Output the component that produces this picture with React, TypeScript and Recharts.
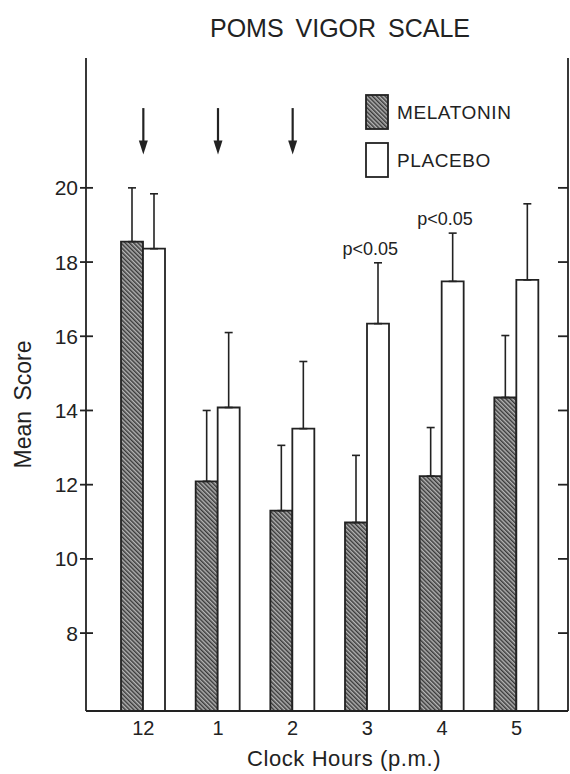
import React from 'react';
import {
  BarChart,
  Bar,
  XAxis,
  YAxis,
  ErrorBar,
  ReferenceLine,
  ReferenceDot,
  Legend,
} from 'recharts';

// ---- data ----
const hours = ['12', '1', '2', '3', '4', '5'];
const melatonin = [18.55, 12.09, 11.3, 10.98, 12.23, 14.35];
const melatoninErr = [1.45, 1.91, 1.76, 1.81, 1.31, 1.67];
const placebo = [18.36, 14.08, 13.51, 16.34, 17.48, 17.52];
const placeboErr = [1.48, 2.02, 1.81, 1.64, 1.3, 2.05];
const significance = ['', '', '', 'p<0.05', 'p<0.05', ''];
const arrowHours = ['12', '1', '2'];
const arrowFrom = 22.15;
const arrowTo = 20.9;
const yTicks = [8, 10, 12, 14, 16, 18, 20];
const yDomain = [5.9, 23.5];

const data = hours.map((h, i) => ({
  hour: h,
  melatonin: melatonin[i],
  mErr: [0, melatoninErr[i]],
  placebo: placebo[i],
  pErr: [0, placeboErr[i]],
}));

const FONT = "'Liberation Sans', Arial, sans-serif";
const INK = '#222';

const emptyTick = () => <g />;

const arrowShape = (p: any) => {
  const { x1, y1, x2, y2 } = p;
  return (
    <g>
      <line x1={x1} y1={y1} x2={x2} y2={y2 - 12} stroke={INK} strokeWidth={2.2} />
      <polygon
        points={`${x2 - 4.5},${y2 - 14} ${x2 + 4.5},${y2 - 14} ${x2},${y2}`}
        fill={INK}
      />
    </g>
  );
};

const renderLegend = (props: any) => {
  const payload = props.payload || [];
  return (
    <div style={{ fontFamily: FONT }}>
      {payload.map((entry: any, i: number) => (
        <div
          key={i}
          style={{ display: 'flex', alignItems: 'center', height: 37, marginBottom: 11 }}
        >
          <svg width={25} height={37} style={{ display: 'block' }}>
            <rect
              x={1}
              y={1}
              width={22}
              height={34}
              fill={entry.color}
              stroke={INK}
              strokeWidth={1.8}
            />
          </svg>
          <span
            style={{
              marginLeft: 7,
              fontSize: 19,
              color: INK,
              letterSpacing: 0.6,
              whiteSpace: 'nowrap',
            }}
          >
            {entry.value}
          </span>
        </div>
      ))}
    </div>
  );
};

const yLabel = (props: any) => {
  const vb = props.viewBox || { x: 0, y: 58, width: 86, height: 653 };
  const cx = vb.x + 23;
  const cy = vb.y + vb.height / 2 + 20;
  return (
    <text
      x={cx}
      y={cy}
      transform={`rotate(-90, ${cx}, ${cy})`}
      textAnchor="middle"
      dominantBaseline="central"
      fontSize={23}
      fontFamily={FONT}
      fill={INK}
      wordSpacing={4}
    >
      Mean Score
    </text>
  );
};

export default function App() {
  return (
    <div
      style={{
        position: 'absolute',
        left: 0,
        top: 0,
        width: 570,
        height: 774,
        background: '#fff',
        fontFamily: FONT,
      }}
    >
      <div
        style={{
          position: 'absolute',
          left: 140,
          top: 15,
          width: 400,
          textAlign: 'center',
          fontSize: 25,
          lineHeight: '26px',
          color: INK,
          wordSpacing: 5,
          fontFamily: FONT,
        }}
      >
        POMS VIGOR SCALE
      </div>
      <BarChart
        width={570}
        height={774}
        data={data}
        margin={{ top: 58, right: 2, bottom: 0, left: 0 }}
        barGap={0}
        barSize={22}
      >
        <defs>
          <pattern
            id="hatch"
            patternUnits="userSpaceOnUse"
            width={3}
            height={3}
            patternTransform="rotate(-45)"
          >
            <rect width={3} height={3} fill="#b4b4b4" />
            <rect width={1.5} height={3} fill="#3a3a3a" />
          </pattern>
        </defs>
        <XAxis
          dataKey="hour"
          height={63}
          padding={{ left: 20, right: 14 }}
          tickLine={false}
          tickSize={6}
          tickMargin={4}
          axisLine={{ stroke: INK, strokeWidth: 1.8 }}
          tick={{ fontSize: 20, fill: INK, fontFamily: FONT }}
          label={{
            value: 'Clock Hours (p.m.)',
            position: 'insideBottom',
            offset: 8,
            dx: 17,
            fontSize: 22,
            letterSpacing: 0.6,
            fill: INK,
            fontFamily: FONT,
          }}
        />
        <XAxis
          xAxisId="top"
          orientation="top"
          dataKey="hour"
          height={0}
          tick={false}
          tickLine={false}
          axisLine={{ stroke: INK, strokeWidth: 1.8 }}
        />
        <YAxis
          width={86}
          domain={yDomain}
          ticks={yTicks}
          allowDataOverflow
          interval={0}
          tickSize={6}
          tickMargin={2}
          tickLine={{ stroke: INK, strokeWidth: 1.8 }}
          axisLine={{ stroke: INK, strokeWidth: 1.8 }}
          tick={{ fontSize: 21, fill: INK, fontFamily: FONT }}
          label={yLabel}
        />
        <YAxis
          yAxisId="in"
          orientation="left"
          mirror
          width={1}
          domain={yDomain}
          ticks={yTicks}
          allowDataOverflow
          interval={0}
          tickSize={7}
          tickLine={{ stroke: INK, strokeWidth: 1.8 }}
          axisLine={false}
          tick={emptyTick}
        />
        <YAxis
          yAxisId="right"
          orientation="right"
          mirror
          width={1}
          domain={yDomain}
          ticks={yTicks}
          allowDataOverflow
          interval={0}
          tickSize={10}
          tickLine={{ stroke: INK, strokeWidth: 1.8 }}
          axisLine={{ stroke: INK, strokeWidth: 1.8 }}
          tick={emptyTick}
        />
        <Legend
          layout="vertical"
          align="center"
          verticalAlign="middle"
          wrapperStyle={{ top: 94, left: 365, width: 180 }}
          content={renderLegend}
        />
        <Bar
          dataKey="melatonin"
          name="MELATONIN"
          fill="url(#hatch)"
          stroke={INK}
          strokeWidth={1.8}
          isAnimationActive={false}
        >
          <ErrorBar
            dataKey="mErr"
            direction="y"
            width={4}
            stroke={INK}
            strokeWidth={1.6}
            isAnimationActive={false}
          />
        </Bar>
        <Bar
          dataKey="placebo"
          name="PLACEBO"
          fill="#ffffff"
          stroke={INK}
          strokeWidth={1.8}
          isAnimationActive={false}
        >
          <ErrorBar
            dataKey="pErr"
            direction="y"
            width={4}
            stroke={INK}
            strokeWidth={1.6}
            isAnimationActive={false}
          />
        </Bar>
        {arrowHours.map((h) => (
          <ReferenceLine
            key={`arrow-${h}`}
            segment={[
              { x: h, y: arrowFrom },
              { x: h, y: arrowTo },
            ]}
            shape={arrowShape}
          />
        ))}
        {hours.map((h, i) =>
          significance[i] ? (
            <ReferenceDot
              key={`sig-${h}`}
              x={h}
              y={placebo[i] + placeboErr[i]}
              r={0}
              fill="none"
              stroke="none"
              label={{
                value: significance[i],
                position: 'top',
                offset: 8,
                dx: 3,
                fontSize: 18,
                fill: INK,
                fontFamily: FONT,
              }}
            />
          ) : null
        )}
      </BarChart>
    </div>
  );
}
